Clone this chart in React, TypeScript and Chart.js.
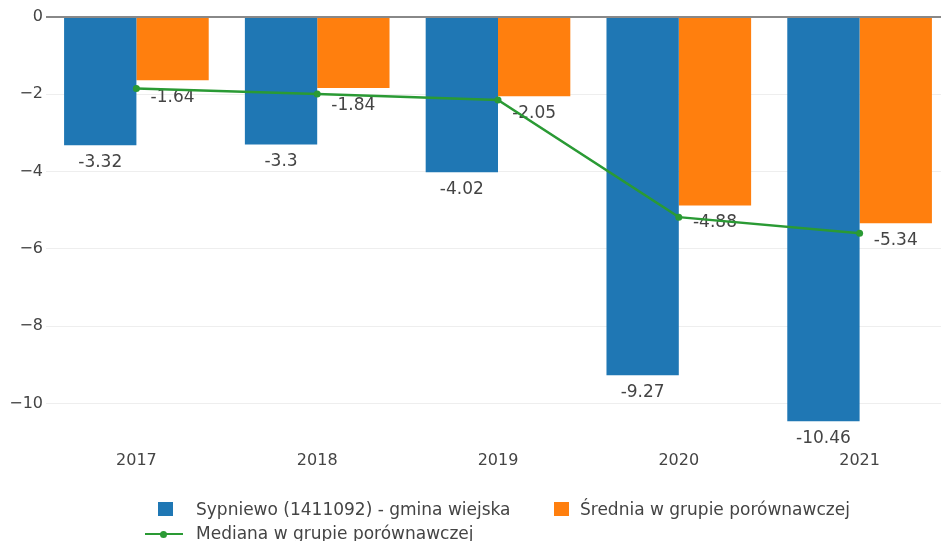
import React, { useEffect, useRef } from "react";
import { Chart, registerables } from "chart.js";

Chart.register(...registerables);

const categories = ["2017", "2018", "2019", "2020", "2021"];
const gminaValues = [-3.32, -3.3, -4.02, -9.27, -10.46];
const sredniaValues = [-1.64, -1.84, -2.05, -4.88, -5.34];
const medianaValues = [-1.85, -1.99, -2.15, -5.18, -5.6];
const yTicks = [0, -2, -4, -6, -8, -10];

const seriesNames = [
  "Sypniewo (1411092) - gmina wiejska",
  "Średnia w grupie porównawczej",
  "Mediana w grupie porównawczej",
];

const BLUE = "#1f77b4";
const ORANGE = "#ff7f0e";
const GREEN = "#2a9a34";
const FONT = "'DejaVu Sans', Verdana, sans-serif";

const labelPlugin = {
  id: "barLabels",
  afterDatasetDraw(chart: any, args: any) {
    const ds = chart.data.datasets[args.index];
    if (ds.type === "line") return;
    const ctx = chart.ctx;
    const meta = args.meta;
    ctx.save();
    ctx.font = `17px ${FONT}`;
    ctx.fillStyle = "#444";
    ctx.textAlign = "center";
    ctx.textBaseline = "middle";
    meta.data.forEach((el: any, i: number) => {
      const v = ds.data[i];
      ctx.fillText(String(v), el.x, el.y + 17);
    });
    ctx.restore();
  },
};

export default function App() {
  const ref = useRef<HTMLCanvasElement | null>(null);

  useEffect(() => {
    document.body.style.margin = "0";
    if (!ref.current) return;
    const chart = new Chart(ref.current, {
      data: {
        labels: categories,
        datasets: [
          {
            type: "bar",
            label: seriesNames[0],
            data: gminaValues,
            backgroundColor: BLUE,
            categoryPercentage: 0.8,
            barPercentage: 1,
            order: 1,
          },
          {
            type: "bar",
            label: seriesNames[1],
            data: sredniaValues,
            backgroundColor: ORANGE,
            categoryPercentage: 0.8,
            barPercentage: 1,
            order: 2,
          },
          {
            type: "line",
            label: seriesNames[2],
            data: medianaValues,
            borderColor: GREEN,
            backgroundColor: GREEN,
            borderWidth: 2.5,
            pointRadius: 3.5,
            pointBackgroundColor: GREEN,
            pointBorderWidth: 0,
            order: 0,
          } as any,
        ],
      },
      options: {
        responsive: false,
        animation: false,
        layout: { padding: { top: 17, left: 0, right: 0, bottom: 0 } },
        plugins: {
          legend: { display: false },
          tooltip: { enabled: false },
        },
        scales: {
          x: {
            grid: { display: false, drawTicks: false },
            border: { display: false },
            ticks: {
              color: "#444",
              font: { family: FONT, size: 16 },
              padding: 9,
            },
            afterFit: (s: any) => {
              s.height = 541 - 442;
            },
          },
          y: {
            min: -11,
            max: 0,
            afterBuildTicks: (s: any) => {
              s.ticks = yTicks.map((v) => ({ value: v }));
            },
            grid: {
              drawTicks: false,
              color: (c: any) => (c.tick && c.tick.value === 0 ? "#888" : "#eeeeee"),
              lineWidth: (c: any) => (c.tick && c.tick.value === 0 ? 2 : 1),
            },
            border: { display: false },
            ticks: {
              color: "#444",
              font: { family: FONT, size: 16 },
              padding: 3,
              callback: (v: any) => (Number(v) < 0 ? "\u2212" + Math.abs(Number(v)) : String(v)),
            },
            afterFit: (s: any) => {
              s.width = 46;
            },
          },
        },
      },
      plugins: [labelPlugin],
    });
    return () => chart.destroy();
  }, []);

  const textStyle: React.CSSProperties = {
    position: "absolute",
    fontFamily: FONT,
    fontSize: 17,
    lineHeight: "18px",
    color: "#444",
    whiteSpace: "nowrap",
  };

  return (
    <div style={{ position: "relative", width: 941, height: 541, overflow: "hidden", background: "#fff" }}>
      <canvas ref={ref} width={954} height={541} style={{ display: "block" }} />
      <div style={{ position: "absolute", left: 158, top: 502, width: 15, height: 14, background: BLUE }} />
      <div style={{ ...textStyle, left: 196, top: 500 }}>{seriesNames[0]}</div>
      <div style={{ position: "absolute", left: 554, top: 502, width: 15, height: 14, background: ORANGE }} />
      <div style={{ ...textStyle, left: 580, top: 500 }}>{seriesNames[1]}</div>
      <div style={{ position: "absolute", left: 145, top: 533, width: 38, height: 2, background: GREEN }} />
      <div
        style={{
          position: "absolute",
          left: 160,
          top: 530.5,
          width: 7,
          height: 7,
          borderRadius: "50%",
          background: GREEN,
        }}
      />
      <div style={{ ...textStyle, left: 196, top: 524 }}>{seriesNames[2]}</div>
    </div>
  );
}
